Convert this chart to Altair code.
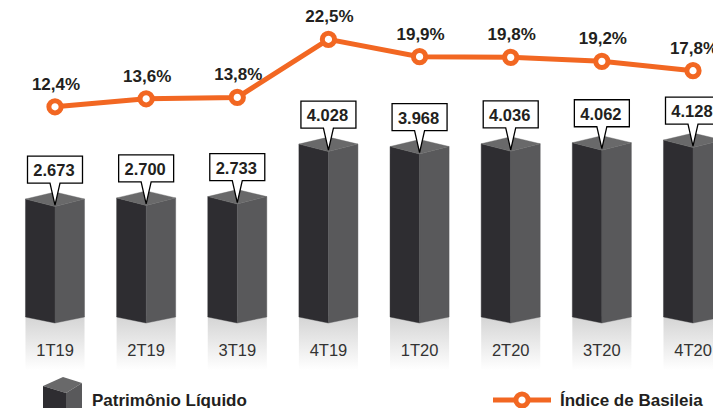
import altair as alt
import pandas as pd

# ---- data ----
quarters = ["1T19", "2T19", "3T19", "4T19", "1T20", "2T20", "3T20", "4T20"]
patrimonio = [2673, 2700, 2733, 4028, 3968, 4036, 4062, 4128]
basileia = [12.4, 13.6, 13.8, 22.5, 19.9, 19.8, 19.2, 17.8]
legend_names = ["Patrimônio Líquido", "Índice de Basileia"]

# ---- styling / geometry constants ----
W, H = 713, 408
SANS = "Liberation Sans, Arial, sans-serif"
ORANGE = "#f26722"
DARK = "#2e2d31"
MID = "#59595b"
TOP = "#69696a"
TXT = "#231f20"

K = 0.04054          # pixels per unit of the PL scale
Y0 = 307.4           # pixel of value 0 on the PL scale
KP = 6.68            # pixels per point of the Basileia scale
YP0 = 189.6          # pixel of 0 % on the Basileia scale
HW = 0.324           # half width of a bar, in category units
BASE_SIDE = (Y0 - 317) / K
BASE_MID = (Y0 - 323) / K
FRONT = 7.5 / K
BACK = 7.0 / K

xs = alt.Scale(domain=[0, 7], range=[55, 693], zero=False, nice=False)
ys = alt.Scale(domain=[0, Y0 / K], range=[Y0, 0], zero=False, nice=False)
yp = alt.Scale(domain=[0, YP0 / KP], range=[YP0, 0], zero=False, nice=False)

left_rows, right_rows, top_rows = [], [], []
for i, v in enumerate(patrimonio):
    left_rows += [dict(b=i, x=i - HW, yt=v, yb=BASE_SIDE),
                  dict(b=i, x=i, yt=v - FRONT, yb=BASE_MID)]
    right_rows += [dict(b=i, x=i, yt=v - FRONT, yb=BASE_MID),
                   dict(b=i, x=i + HW, yt=v, yb=BASE_SIDE)]
    top_rows += [dict(b=i, x=i - HW, yt=v, yb=v),
                 dict(b=i, x=i, yt=v + BACK, yb=v - FRONT),
                 dict(b=i, x=i + HW, yt=v, yb=v)]

bars = pd.DataFrame({
    "i": list(range(len(quarters))),
    "q": quarters,
    "v": patrimonio,
    "lab": [f"{v:,}".replace(",", ".") for v in patrimonio],
    "x0": [i - HW for i in range(len(quarters))],
    "x1": [i + HW for i in range(len(quarters))],
})
line = pd.DataFrame({
    "i": list(range(len(quarters))),
    "p": basileia,
    "lab": [f"{p:.1f}".replace(".", ",") + "%" for p in basileia],
})
one = pd.DataFrame({"k": [0]})

X = alt.X("x:Q", scale=xs, axis=None)
XI = alt.X("i:Q", scale=xs, axis=None)

grad = alt.Gradient(gradient="linear",
                    stops=[alt.GradientStop(color="#d4d4d4", offset=0),
                           alt.GradientStop(color="#ffffff", offset=1)],
                    x1=0, x2=0, y1=0, y2=1)

band = alt.Chart(bars).mark_rect(fill=grad).encode(
    x=alt.X("x0:Q", scale=xs, axis=None), x2="x1:Q",
    y=alt.value(316), y2=alt.value(370))

qlab = alt.Chart(bars).mark_text(font=SANS, fontSize=16.5, color="#333333",
                                 baseline="alphabetic").encode(
    x=XI, y=alt.value(356), text="q:N")


def face(rows, color):
    return alt.Chart(pd.DataFrame(rows)).mark_area(
        color=color, orient="vertical", stroke=color, strokeWidth=0.4).encode(
        x=X, y=alt.Y("yt:Q", scale=ys, axis=None), y2="yb:Q", detail="b:N")


left = face(left_rows, DARK)
right = face(right_rows, MID)
top = face(top_rows, TOP)

CALLOUT = "M -27.5 -43 L 27.5 -43 L 27.5 -16 L 5 -16 L 0 6 L -5 -16 L -27.5 -16 Z"
callout = alt.Chart(bars).mark_point(
    shape=CALLOUT, size=4, filled=True, fill="white", stroke="black",
    strokeWidth=1.3, opacity=1).encode(
    x=XI, y=alt.Y("v:Q", scale=ys, axis=None))
callout_txt = alt.Chart(bars).mark_text(
    font=SANS, fontSize=16.5, fontWeight="bold", color=TXT,
    baseline="alphabetic", dy=-23, dx=-1).encode(
    x=XI, y=alt.Y("v:Q", scale=ys, axis=None), text="lab:N")

pline = alt.Chart(line).mark_line(color=ORANGE, strokeWidth=5).encode(
    x=XI, y=alt.Y("p:Q", scale=yp, axis=None))
pdots = alt.Chart(line).mark_point(
    shape="circle", size=150, filled=True, fill="white", stroke=ORANGE,
    strokeWidth=5, opacity=1).encode(
    x=XI, y=alt.Y("p:Q", scale=yp, axis=None))
ptxt = alt.Chart(line).mark_text(
    font=SANS, fontSize=17, fontWeight="bold", color=TXT,
    baseline="alphabetic", dy=-17, dx=1).encode(
    x=XI, y=alt.Y("p:Q", scale=yp, axis=None), text="lab:N")

# ---- legend ----
def icon(path, color):
    return alt.Chart(one).mark_point(shape=path, size=4, filled=True,
                                     fill=color, opacity=1, strokeWidth=0).encode(
        x=alt.value(0), y=alt.value(0))


leg_top = icon("M 43 386 L 63 377 L 82 383 L 66 393 Z", TOP)
leg_left = icon("M 43 386 L 66 393 L 66 412 L 43 412 Z", DARK)
leg_right = icon("M 66 393 L 82 383 L 82 412 L 66 412 Z", MID)
leg_rule = alt.Chart(one).mark_rule(color=ORANGE, strokeWidth=5).encode(
    x=alt.value(493), x2=alt.value(551), y=alt.value(400))
leg_dot = alt.Chart(one).mark_point(
    shape="circle", size=150, filled=True, fill="white", stroke=ORANGE,
    strokeWidth=5, opacity=1).encode(x=alt.value(522), y=alt.value(400))
leg_txt1 = alt.Chart(one).mark_text(
    text=legend_names[0], font=SANS, fontSize=17, fontWeight="bold", color=TXT,
    align="left", baseline="alphabetic").encode(x=alt.value(92), y=alt.value(406))
leg_txt2 = alt.Chart(one).mark_text(
    text=legend_names[1], font=SANS, fontSize=17, fontWeight="bold", color=TXT,
    align="left", baseline="alphabetic").encode(x=alt.value(560), y=alt.value(406))

chart = alt.layer(
    band, qlab, left, right, top, callout, callout_txt,
    pline, pdots, ptxt,
    leg_top, leg_left, leg_right, leg_rule, leg_dot, leg_txt1, leg_txt2,
).resolve_scale(y="independent").properties(
    width=W, height=H, padding=0, autosize="none", background="white"
).configure_view(stroke=None)

chart.save("out.html", embed_options={"renderer": "svg", "actions": False})
